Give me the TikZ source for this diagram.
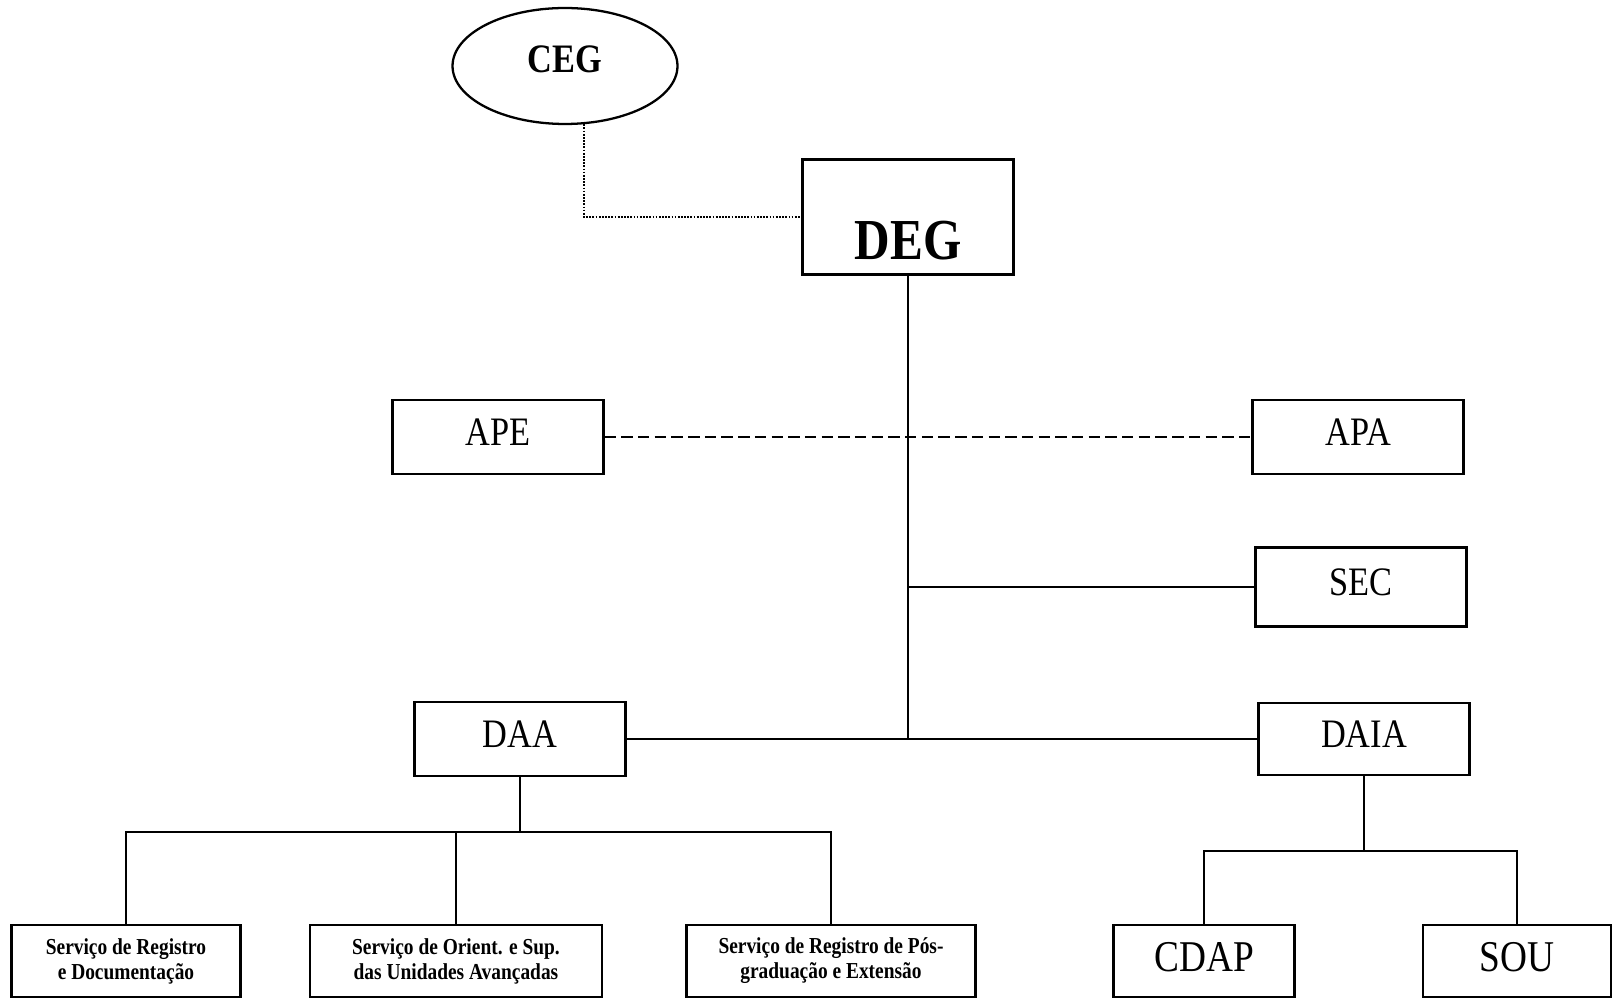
\documentclass[tikz,border=0pt]{standalone}
\usepackage{fontspec}
\setmainfont{Liberation Serif}
\newfontfamily\narrowserif[FakeStretch=0.85]{Liberation Serif}
\usetikzlibrary{shapes.geometric, positioning, calc}

\begin{document}
\begin{tikzpicture}[
      x=0.02cm, y=0.02cm,
      block/.style={
        rectangle,
        draw,
        line width=1.3pt,
        inner sep=0pt,
      },
      unit/.style={
        minimum width=4.22cm,
        minimum height=1.48cm,
        text depth=0.2cm,
        font=\narrowserif\fontsize{23}{26}\selectfont,
      },
      service/.style={
        minimum height=1.44cm,
        align=center,
        font=\narrowserif\bfseries\fontsize{13}{14.2}\selectfont,
      },
      council/.style={
        ellipse,
        draw,
        line width=1.3pt,
        minimum width=4.5cm,
        minimum height=2.32cm,
        text depth=0.28cm,
        font=\narrowserif\bfseries\fontsize{23}{26}\selectfont,
      },
      link/.style={
        line width=1pt,
      },
      dashed-link/.style={
        line width=1.2pt,
        dash pattern=on 6.5pt off 3pt,
      },
      dotted-link/.style={
        line width=0.9pt,
        dash pattern=on 1pt off 0.8pt,
      },
    ]
    \useasboundingbox (0,0) rectangle (1619,-999);
    \coordinate (ceg) at (565,-66);
    \coordinate (deg) at (908,-217);
    \coordinate (ape) at (498,-437);
    \coordinate (apa) at (1358,-437);
    \coordinate (sec) at (1361,-587);
    \coordinate (daa) at (520,-739);
    \coordinate (daia) at (1364,-739);
    \coordinate (srd) at (126,-961);
    \coordinate (sos) at (456,-961);
    \coordinate (srp) at (831,-961);
    \coordinate (cdap) at (1204,-961);
    \coordinate (sou) at (1517,-961);
    \node[council] (ceg-node) at (ceg) {CEG};
    \node[block, minimum width=4.22cm, minimum height=2.3cm] (deg-node) at (deg) {};
    \node[font=\narrowserif\bfseries\fontsize{33}{36}\selectfont] at ([yshift=-0.48cm]deg-node.center) {DEG};
    \node[block, unit] (ape-node) at (ape) {APE};
    \node[block, unit] (apa-node) at (apa) {APA};
    \node[block, unit, minimum height=1.58cm] (sec-node) at (sec) {SEC};
    \node[block, unit] (daa-node) at (daa) {DAA};
    \node[block, unit, minimum height=1.44cm] (daia-node) at (daia) {DAIA};
    \node[block, service, minimum width=4.58cm] (srd-node) at (srd) {Serviço de Registro\\e Documentação};
    \node[block, service, minimum width=5.84cm] (sos-node) at (sos) {Serviço de Orient. e Sup.\\das Unidades Avançadas};
    \node[block, service, minimum width=5.78cm] (srp-node) at (srp) {Serviço de Registro de Pós-\\graduação e Extensão};
    \node[block, unit, minimum width=3.62cm, minimum height=1.44cm, text depth=0.17cm, font=\narrowserif\fontsize{25}{28}\selectfont] (cdap-node) at (cdap) {CDAP};
    \node[block, unit, minimum width=3.76cm, minimum height=1.44cm, text depth=0.17cm, font=\narrowserif\fontsize{25}{28}\selectfont] (sou-node) at (sou) {SOU};
    \draw[dotted-link] (ceg-node.-72) |- (deg-node.west);
    \draw[dashed-link] (ape-node.east) -- (apa-node.west);
    \draw[link] (deg-node.south) -- (deg-node.south |- daa-node.east);
    \draw[link] (deg-node.south |- sec-node.west) -- (sec-node.west);
    \draw[link] (daa-node.east) -- (daia-node.west);
    % lower branches
    \draw[link] (daa-node.south) -- ++(0,-55) coordinate (daa-bar);
    \draw[link] (daa-bar) -| (srd-node.north);
    \draw[link] (daa-bar) -| (srp-node.north);
    \draw[link] (sos-node.north) -- (sos-node.north |- daa-bar);
    \draw[link] (daia-node.south) -- ++(0,-75) coordinate (daia-bar);
    \draw[link] (daia-bar) -| (cdap-node.north);
    \draw[link] (daia-bar) -| (sou-node.north);
  \end{tikzpicture}
\end{document}
